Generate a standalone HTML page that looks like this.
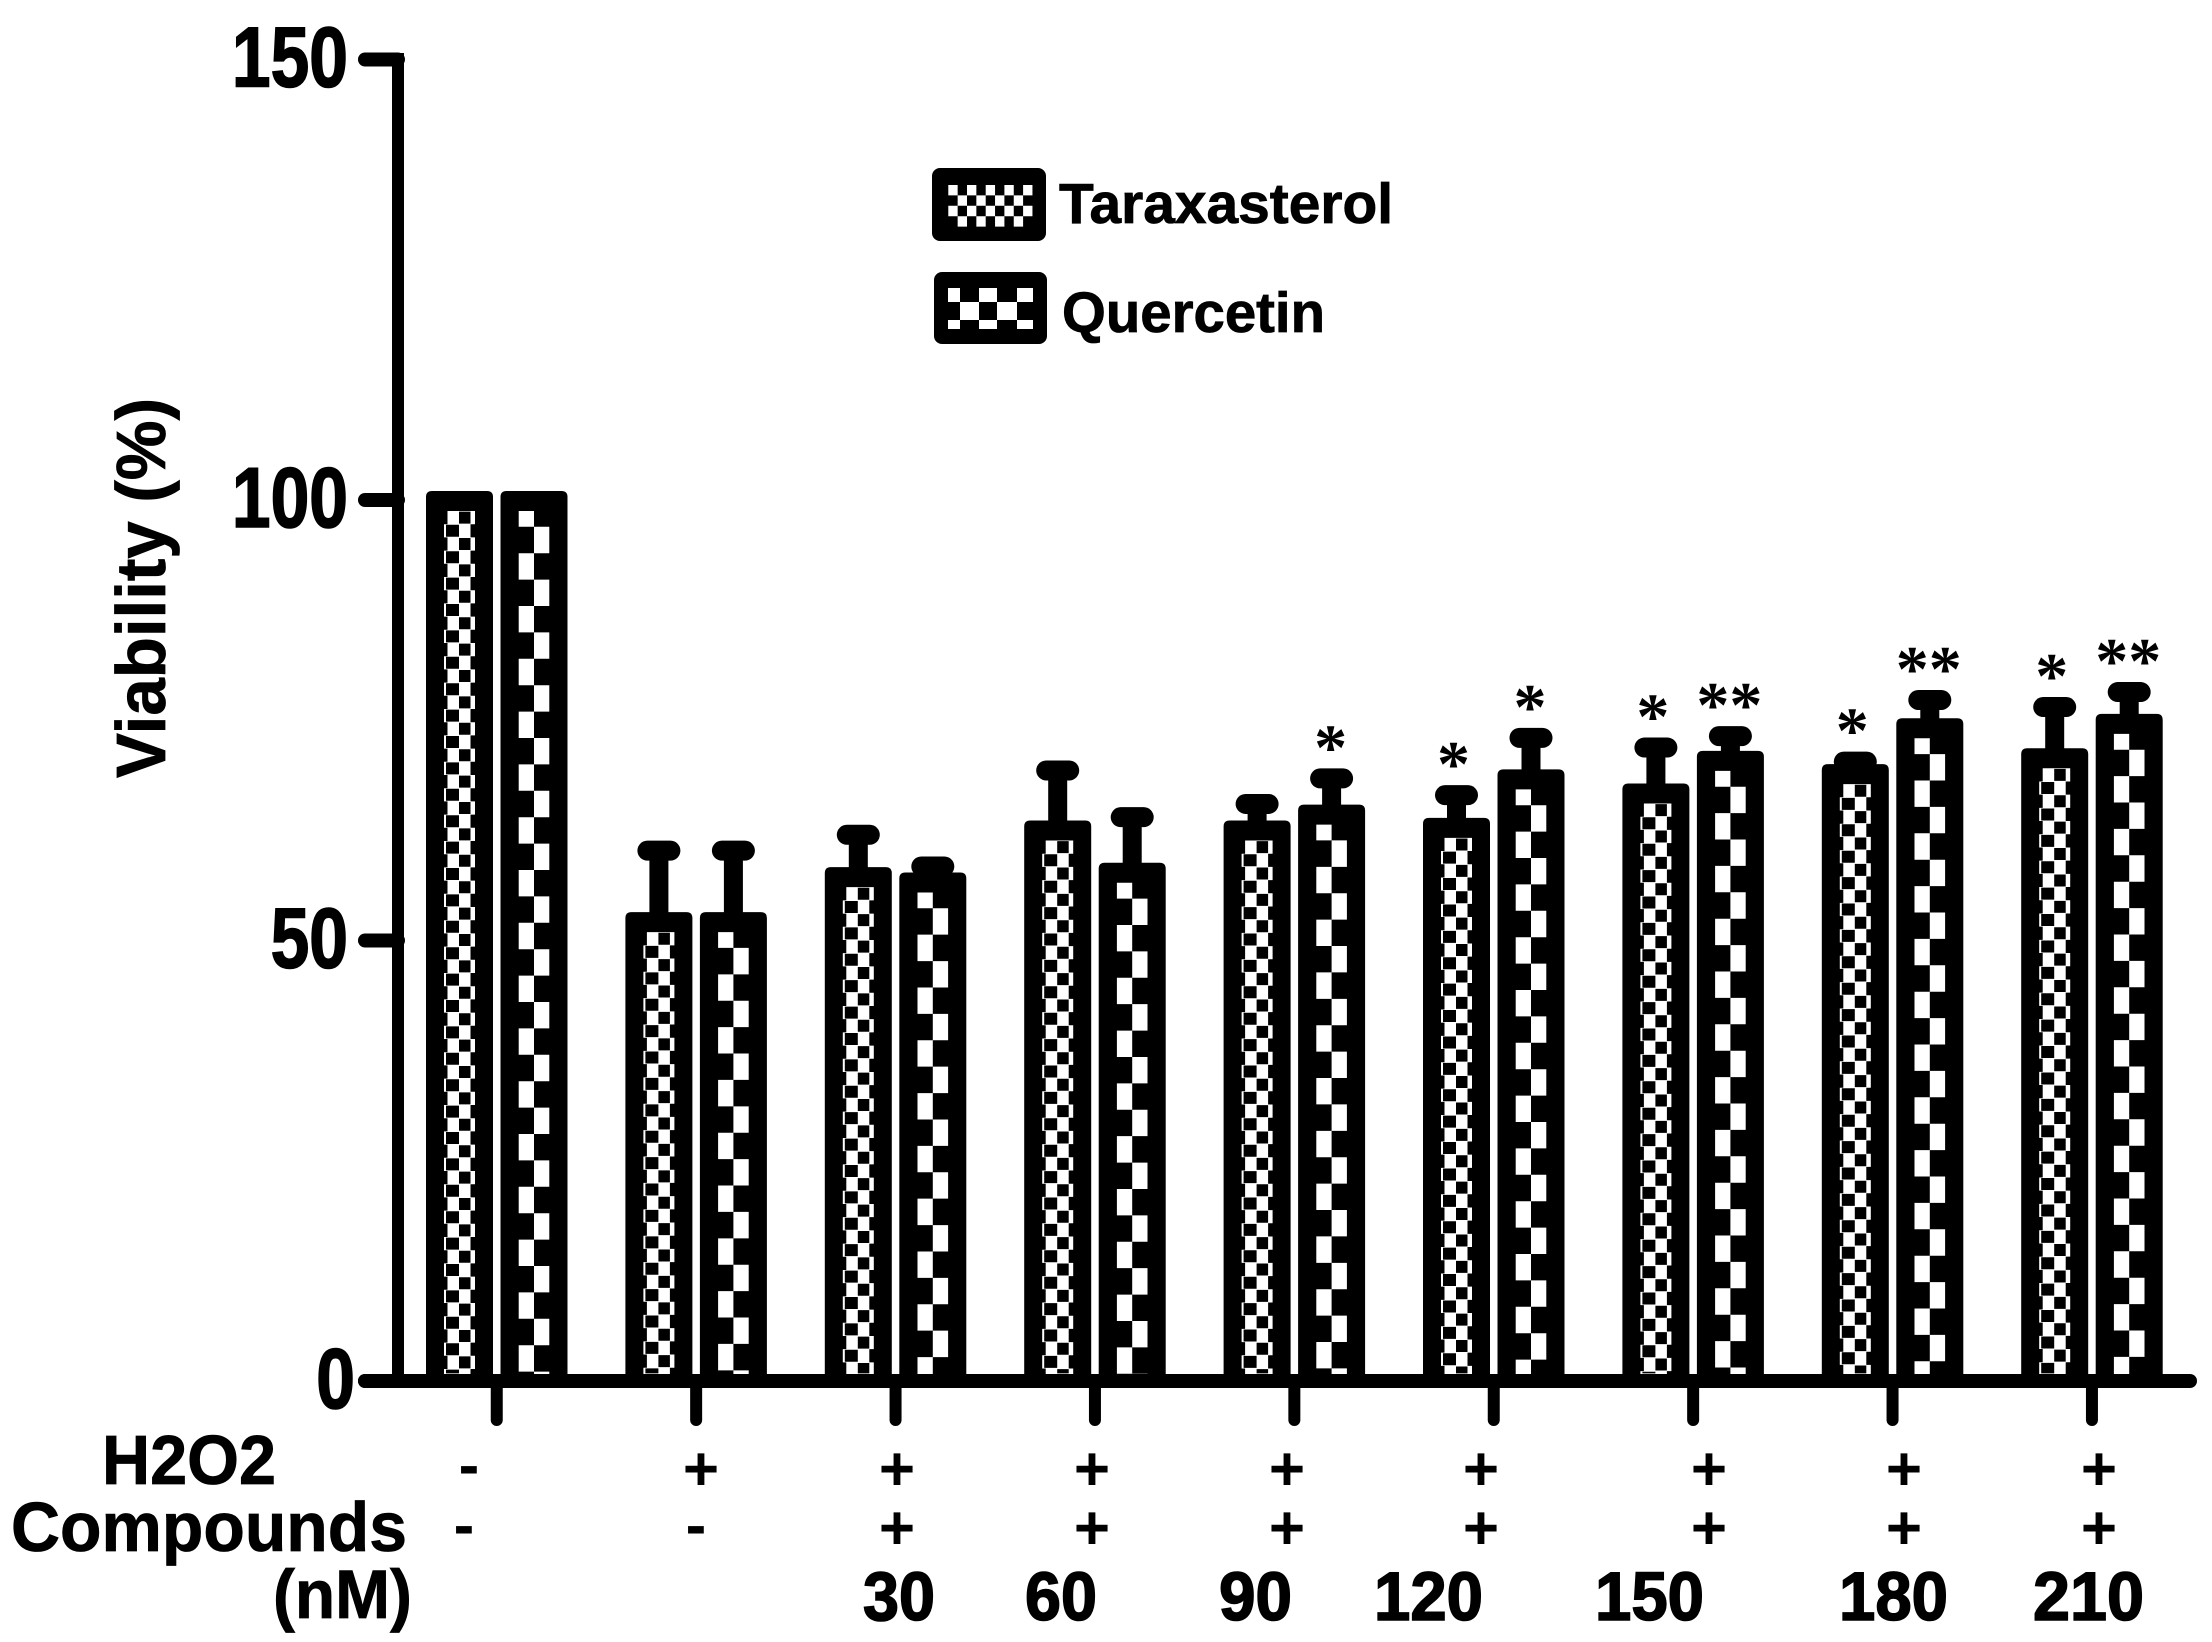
<!DOCTYPE html>
<html lang="en">
<head>
<meta charset="utf-8">
<title>Viability chart</title>
<style>
html,body{margin:0;padding:0;background:#fff;width:2212px;height:1642px;overflow:hidden}
svg{display:block}
text{font-family:"Liberation Sans",Arial,sans-serif;font-weight:bold;fill:#000}
.star{font-family:"Liberation Serif","Times New Roman",serif;font-weight:bold;font-size:66px;text-anchor:middle}
.sign{font-size:62px;text-anchor:middle}
.heavy{stroke:#000;stroke-width:1.6px}
.medium{stroke:#000;stroke-width:.8px}
</style>
</head>
<body>
<svg id="chart" xmlns="http://www.w3.org/2000/svg" width="2212" height="1642" viewBox="0 0 2212 1642">
  <rect width="2212" height="1642" fill="#fff"/>
  <g id="bars"></g>
  <g id="axes"></g>
  <g id="stars"></g>
  <text class="medium" transform="translate(165,778) rotate(-90)" font-size="70" textLength="380" lengthAdjust="spacingAndGlyphs">Viability (%)</text>

  <g>
    <g>
      <rect x="932" y="168" width="114" height="73" rx="8" fill="#000"/>
      <g id="legend-tara"></g>
      <text class="medium" x="1059" y="223" font-size="57" textLength="334" lengthAdjust="spacingAndGlyphs">Taraxasterol</text>
    </g>
    <g>
      <rect x="934" y="272" width="113" height="72" rx="8" fill="#000"/>
      <g fill="#fff">
        <rect x="948" y="288" width="12" height="14"/><rect x="979" y="288" width="18" height="14"/><rect x="1017" y="288" width="16" height="14"/>
        <rect x="960" y="302" width="19" height="18"/><rect x="997" y="302" width="20" height="18"/>
        <rect x="948" y="320" width="12" height="9"/><rect x="979" y="320" width="18" height="9"/><rect x="1017" y="320" width="16" height="9"/>
      </g>
      <text class="medium" x="1062" y="332" font-size="57" textLength="263" lengthAdjust="spacingAndGlyphs">Quercetin</text>
    </g>
  </g>

  <g>
    <text class="medium" x="102" y="1484" font-size="70" textLength="174" lengthAdjust="spacingAndGlyphs">H2O2</text>
    <text class="medium" x="11" y="1551" font-size="70" textLength="396" lengthAdjust="spacingAndGlyphs">Compounds</text>
    <text class="medium" x="273" y="1618" font-size="69" textLength="139" lengthAdjust="spacingAndGlyphs">(nM)</text>
  </g>
  <g>
    <text class="sign" x="469" y="1486">-</text>
    <text class="sign" x="701" y="1490">+</text>
    <text class="sign" x="897" y="1490">+</text>
    <text class="sign" x="1092" y="1490">+</text>
    <text class="sign" x="1287" y="1490">+</text>
    <text class="sign" x="1481" y="1490">+</text>
    <text class="sign" x="1709" y="1490">+</text>
    <text class="sign" x="1904" y="1490">+</text>
    <text class="sign" x="2099" y="1490">+</text>
  </g>
  <g>
    <text class="sign" x="464" y="1546">-</text>
    <text class="sign" x="696" y="1546">-</text>
    <text class="sign" x="897" y="1549">+</text>
    <text class="sign" x="1092" y="1549">+</text>
    <text class="sign" x="1287" y="1549">+</text>
    <text class="sign" x="1481" y="1549">+</text>
    <text class="sign" x="1709" y="1549">+</text>
    <text class="sign" x="1904" y="1549">+</text>
    <text class="sign" x="2099" y="1549">+</text>
  </g>
  <g font-size="69">
    <text class="heavy" x="863" y="1620" textLength="72" lengthAdjust="spacingAndGlyphs">30</text>
    <text class="heavy" x="1025" y="1620" textLength="72" lengthAdjust="spacingAndGlyphs">60</text>
    <text class="heavy" x="1219" y="1620" textLength="73" lengthAdjust="spacingAndGlyphs">90</text>
    <text class="heavy" x="1374" y="1620" textLength="109" lengthAdjust="spacingAndGlyphs">120</text>
    <text class="heavy" x="1595" y="1620" textLength="109" lengthAdjust="spacingAndGlyphs">150</text>
    <text class="heavy" x="1839" y="1620" textLength="109" lengthAdjust="spacingAndGlyphs">180</text>
    <text class="heavy" x="2033" y="1620" textLength="111" lengthAdjust="spacingAndGlyphs">210</text>
  </g>
</svg>
<script>
const categories = ['Control', 'H2O2', '30 nM', '60 nM', '90 nM', '120 nM', '150 nM', '180 nM', '210 nM'];
const taraxasterolValues = [100, 52.2, 57.3, 62.6, 62.6, 62.9, 66.8, 69.0, 70.8];
const quercetinValues = [100, 52.2, 56.7, 57.8, 64.4, 68.4, 70.5, 74.2, 74.7];
const taraxasterolErrors = [0, 8.0, 4.7, 6.7, 2.9, 3.6, 5.1, 1.3, 5.7];
const quercetinErrors = [0, 8.0, 1.7, 6.2, 4.0, 4.6, 2.7, 3.1, 3.5];
const taraxasterolSignificance = ['', '', '', '', '', '*', '*', '*', '*'];
const quercetinSignificance = ['', '', '', '', '*', '*', '**', '**', '**'];
const yTicks = [0, 50, 100, 150];

const NS = 'http://www.w3.org/2000/svg';
const y0 = 1381, pxPerUnit = 8.81;
const firstCenter = 459.5, groupStep = 199.4, pairStep = 74.5;
const yScale = v => y0 - v * pxPerUnit;
const xScale = (i, s) => firstCenter + i * groupStep + s * pairStep;
const make = (tag, attrs) => {
  const el = document.createElementNS(NS, tag);
  for (const k in attrs) el.setAttribute(k, attrs[k]);
  return el;
};
const barsG = document.getElementById('bars');
const axesG = document.getElementById('axes');
const starsG = document.getElementById('stars');
const rectPath = (x, y, w, h) => `M${x} ${y}h${w}v${h}h${-w}z`;

function taraCells(cx, top, bottom) {
  let white = '', black = '';
  const rowH = 13.2;
  let row = 0;
  for (let yy = top; yy < bottom; yy += rowH, row++) {
    const h = Math.min(rowH, bottom - yy);
    if (row % 2 === 0) {
      white += rectPath(cx - 12, yy, 27.5, h);
      black += rectPath(cx - 0.5, yy + 0.6, 11.5, h - 1.2 > 0 ? h - 1.2 : 0);
    } else {
      white += rectPath(cx - 15.5, yy, 26.5, h);
      black += rectPath(cx - 13.5, yy + 0.6, 13, h - 1.2 > 0 ? h - 1.2 : 0);
    }
  }
  return { white, black };
}

function quercetinCells(cx, top, bottom) {
  let white = '';
  const rowH = 26.4;
  const first = 15.8;
  let yy = top, row = 0;
  while (yy < bottom) {
    const full = row === 0 ? first : rowH;
    const h = Math.min(full, bottom - yy);
    white += row % 2 === 0 ? rectPath(cx - 15.3, yy, 15.3, h) : rectPath(cx, yy, 15.3, h);
    yy += full;
    row++;
  }
  return { white, black: '' };
}

function drawBar(i, s, value, err, cellFn, seriesName, sig, starShift) {
  const cx = xScale(i, s);
  const yv = yScale(value);
  if (err > 0) {
    const ye = yScale(value + err);
    const stem = make('rect', { x: cx - 9.5, y: ye, width: 19, height: yv - ye, fill: '#000' });
    
    
    barsG.appendChild(stem);
    const cap = make('rect', { x: cx - 21.5, y: ye - 10, width: 43, height: 20, rx: 10, fill: '#000' });
    
    
    barsG.appendChild(cap);
  }
  const outer = make('path', {
    d: `M${cx - 33.5} ${y0}V${yv - 3}q0 -6 6 -6H${cx + 27.5}q6 0 6 6V${y0}z`,
    fill: '#000'
  });
  
  
  barsG.appendChild(outer);
  const cells = cellFn(cx, yv + 11, y0 - 7);
  const white = make('path', { d: cells.white, fill: '#fff' });
  
  
  barsG.appendChild(white);
  if (cells.black) {
    const black = make('path', { d: cells.black, fill: '#000' });
    
    
    barsG.appendChild(black);
  }
  if (sig) {
    const star = make('text', { class: 'star', x: cx + starShift, y: yScale(value + err) - 40 + 31 });
    
    
    star.textContent = sig;
    starsG.appendChild(star);
  }
}

categories.forEach((name, i) => {
  drawBar(i, 0, taraxasterolValues[i], taraxasterolErrors[i], taraCells, 'taraxasterol', taraxasterolSignificance[i], -3);
  drawBar(i, 1, quercetinValues[i], quercetinErrors[i], quercetinCells, 'quercetin', quercetinSignificance[i], -1);
});

const yLine = make('rect', { x: 392, y: 53, width: 12, height: y0 - 53, fill: '#000' });


axesG.appendChild(yLine);
const xLine = make('rect', { x: 358, y: y0 - 7, width: 1839, height: 14, rx: 7, fill: '#000' });


axesG.appendChild(xLine);

yTicks.forEach(t => {
  const yy = yScale(t);
  const tick = make('path', { d: `M${358 + 7} ${yy}H398`, stroke: '#000', 'stroke-width': 14, 'stroke-linecap': 'round', fill: 'none' });
  
  
  axesG.appendChild(tick);
  const s = String(t);
  const w = 38.7 * s.length;
  const right = s.length === 1 ? 355 : 348;
  const label = make('text', { class: 'heavy', x: right - w, y: yy + 27, 'font-size': 85, textLength: w, lengthAdjust: 'spacingAndGlyphs' });
  
  
  label.textContent = s;
  axesG.appendChild(label);
});

categories.forEach((name, i) => {
  const cx = xScale(i, 0.5);
  const tick = make('path', { d: `M${cx} ${y0}V${1420}`, stroke: '#000', 'stroke-width': 12, 'stroke-linecap': 'round', fill: 'none' });
  
  
  axesG.appendChild(tick);
});

(function legendTara() {
  const g = document.getElementById('legend-tara');
  let white = '';
  const cw = 9.35, rh = 10.4;
  for (let r = 0; r < 4; r++) {
    for (let c = 0; c < 9; c++) {
      if ((r + c) % 2 === 0) white += rectPath(948.3 + c * cw, 185 + r * rh, cw, rh);
    }
  }
  const w = make('path', { d: white, fill: '#fff' });
  
  
  g.appendChild(w);
})();
</script>
</body>
</html>
